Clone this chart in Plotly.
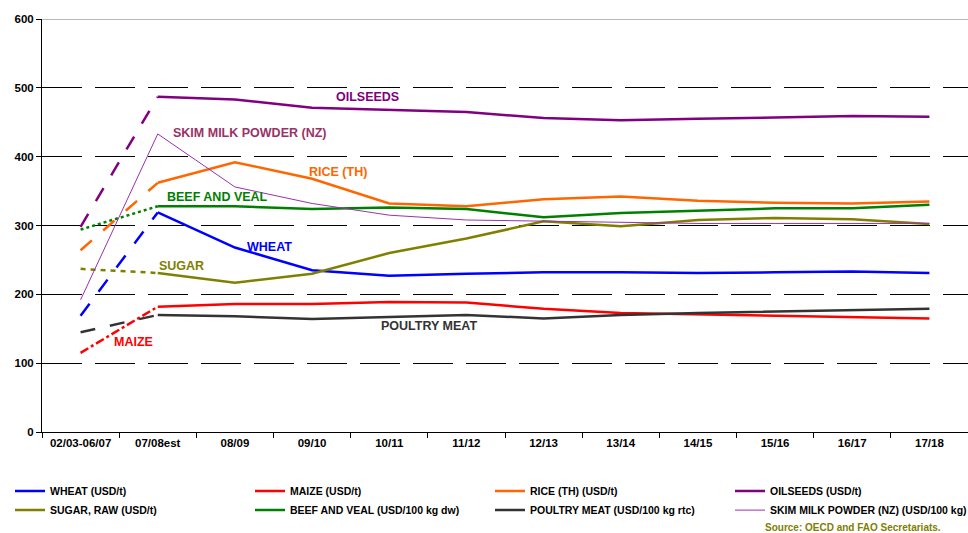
import plotly.graph_objects as go

categories = ["02/03-06/07", "07/08est", "08/09", "09/10", "10/11", "11/12",
              "12/13", "13/14", "14/15", "15/16", "16/17", "17/18"]

wheat = [169, 319, 268, 235, 227, 230, 232, 232, 231, 232, 233, 231]
maize = [115, 182, 186, 186, 189, 188, 179, 173, 171, 170, 167, 165]
rice = [264, 362, 392, 368, 332, 328, 338, 342, 336, 333, 332, 335]
oilseeds = [298, 487, 483, 471, 468, 465, 456, 453, 455, 457, 459, 458]
sugar = [237, 231, 217, 230, 260, 281, 306, 299, 308, 311, 309, 302]
beef = [294, 328, 328, 324, 326, 324, 312, 318, 322, 325, 325, 330]
poultry = [145, 170, 168, 164, 167, 170, 165, 170, 173, 175, 176, 179]
skim = [192, 433, 356, 332, 315, 308, 306, 304, 303, 303, 303, 303]

series = [
    ("WHEAT (USD/t)", wheat, "#0000FF", 2.5, "longdash"),
    ("MAIZE (USD/t)", maize, "#FF0000", 2.5, "dashdot"),
    ("RICE (TH) (USD/t)", rice, "#FF6600", 2.5, "longdash"),
    ("OILSEEDS (USD/t)", oilseeds, "#800080", 2.5, "longdash"),
    ("SUGAR, RAW (USD/t)", sugar, "#808000", 2.5, "5px,5px"),
    ("BEEF AND VEAL (USD/100 kg dw)", beef, "#008000", 2.5, "dot"),
    ("POULTRY MEAT (USD/100 kg rtc)", poultry, "#333333", 2.5, "longdash"),
    ("SKIM MILK POWDER (NZ) (USD/100 kg)", skim, "#9933AA", 1, "solid"),
]

labels = [
    ("OILSEEDS", 3.72, 487, "#800080"),
    ("SKIM MILK POWDER (NZ)", 2.19, 435, "#993366"),
    ("RICE (TH)", 3.33, 378, "#FF6600"),
    ("BEEF AND VEAL", 1.77, 342, "#008000"),
    ("WHEAT", 2.45, 269, "#0000FF"),
    ("SUGAR", 1.31, 241, "#808000"),
    ("MAIZE", 0.68, 131, "#FF0000"),
    ("POULTRY MEAT", 4.52, 154, "#333333"),
]

FONT = "Liberation Sans, Arial, sans-serif"

fig = go.Figure()
for name, vals, color, width, dash in series:
    fig.add_trace(go.Scatter(
        x=categories[:2], y=vals[:2], mode="lines", showlegend=False,
        line=dict(color=color, width=width, dash=dash), hoverinfo="skip"))
for name, vals, color, width, dash in series:
    fig.add_trace(go.Scatter(
        x=categories[1:], y=vals[1:], mode="lines", name=name,
        line=dict(color=color, width=width)))

for text, xi, yv, color in labels:
    fig.add_annotation(x=xi, y=yv, text=text, showarrow=False,
                       font=dict(family=FONT, size=12.5, color=color, weight="bold"))

fig.add_annotation(xref="paper", yref="paper", x=(763 - 42) / 926, y=(432 - 527) / 413,
                   xanchor="left", yanchor="middle", showarrow=False,
                   text="Source: OECD and FAO Secretariats.",
                   font=dict(family=FONT, size=10, color="#808000", weight="bold"))

fig.add_shape(type="line", xref="paper", yref="y", x0=0, x1=1, y0=600, y1=600,
              line=dict(color="#A0A0A0", width=1.5))

fig.update_layout(
    width=968, height=533,
    margin=dict(l=42, r=0, t=19, b=101, autoexpand=False),
    plot_bgcolor="white", paper_bgcolor="white",
    font=dict(family=FONT, size=11, color="black"),
    xaxis=dict(type="category", categoryorder="array", categoryarray=categories,
               range=[-0.5, 11.5], showgrid=False, showline=True, linecolor="black",
               linewidth=1, ticks="outside", tickson="boundaries", ticklen=5,
               tickcolor="black", tickfont=dict(family=FONT, size=11.5, weight="bold"),
               zeroline=False, automargin=False),
    yaxis=dict(range=[0, 600], dtick=100, showgrid=True, gridcolor="black",
               gridwidth=1, griddash="40px,13px", showline=True, linecolor="black",
               linewidth=1, ticks="outside", ticklen=5, tickcolor="black",
               tickfont=dict(family=FONT, size=11.5, weight="bold"), zeroline=False,
               automargin=False),
    legend=dict(orientation="h", x=(10 - 42) / 926, y=-0.108, xanchor="left", yanchor="top",
                entrywidth=195, entrywidthmode="pixels", traceorder="normal",
                font=dict(family=FONT, size=10.5, weight="bold", color="black"),
                itemwidth=30, bgcolor="rgba(0,0,0,0)"),
    showlegend=True,
)

fig.write_html("out.html", config={"displayModeBar": False},
               post_script="document.body.style.margin='0';")
